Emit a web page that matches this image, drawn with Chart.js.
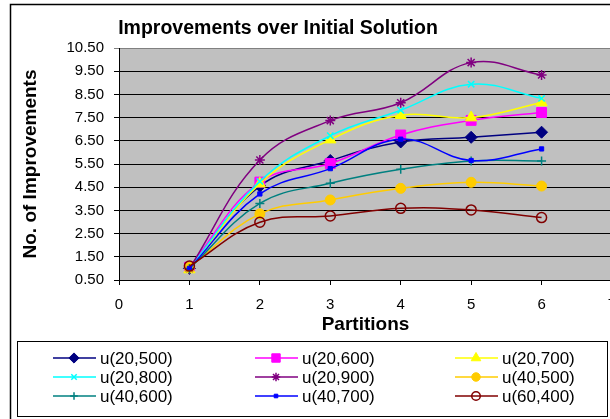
<!doctype html>
<html lang="en">
<head>
<meta charset="utf-8">
<script src="https://cdn.jsdelivr.net/npm/chart.js@4.4.0/dist/chart.umd.min.js"></script>
<title>Improvements over Initial Solution</title>
<style>
  body { margin: 0; overflow: hidden; background: #fff; }
  #wrap { position: relative; width: 650px; height: 419px; }
</style>
</head>
<body>
<div id="wrap"><canvas id="impChart"></canvas></div>
<script>
// data
const partitions = [1, 2, 3, 4, 5, 6];
const seriesNames = ['u(20,500)', 'u(20,600)', 'u(20,700)', 'u(20,800)', 'u(20,900)', 'u(40,500)', 'u(40,600)', 'u(40,700)', 'u(60,400)'];
const u20_500 = [1.00, 4.55, 5.65, 6.45, 6.65, 6.87];
const u20_600 = [1.05, 4.72, 5.52, 6.75, 7.38, 7.72];
const u20_700 = [0.95, 4.65, 6.55, 7.60, 7.50, 8.15];
const u20_800 = [1.00, 4.75, 6.72, 7.82, 8.94, 8.33];
const u20_900 = [1.00, 5.67, 7.37, 8.14, 9.87, 9.34];
const u40_500 = [1.05, 3.35, 3.95, 4.45, 4.71, 4.55];
const u40_600 = [1.00, 3.80, 4.67, 5.27, 5.63, 5.63];
const u40_700 = [1.00, 4.21, 5.30, 6.57, 5.65, 6.15];
const u60_400 = [1.10, 2.99, 3.26, 3.59, 3.52, 3.19];
const seriesValues = [u20_500, u20_600, u20_700, u20_800, u20_900, u40_500, u40_600, u40_700, u60_400];

const colours = ['#000080', '#FF00FF', '#FFFF00', '#00FFFF', '#800080', '#FFCC00', '#008080', '#0000FF', '#800000'];
const markers = ['rectRot', 'rect', 'triangle', 'crossRot', 'star', 'circle', 'cross', 'rect', 'circle'];
const markerSize = [6, 7, 6.5, 4.5, 5, 5, 4.5, 3, 5];

Chart.defaults.font.family = "'Liberation Sans', Arial, sans-serif";
Chart.defaults.color = '#000';

const datasets = seriesNames.map(function (name, i) {
  const hollow = i === 8;
  return {
    label: name,
    data: partitions.map((p, k) => ({ x: p, y: seriesValues[i][k] })),
    borderColor: colours[i],
    backgroundColor: hollow ? 'rgba(0,0,0,0)' : colours[i],
    pointBackgroundColor: hollow ? 'rgba(0,0,0,0)' : colours[i],
    pointBorderColor: colours[i],
    pointStyle: markers[i],
    pointRadius: markerSize[i],
    pointBorderWidth: (markers[i] === 'crossRot' || markers[i] === 'star' || markers[i] === 'cross' || hollow) ? 1.5 : 1,
    borderWidth: 1.5,
    tension: 0.4,
    fill: false,
    order: -i
  };
});

// grey plot area, outer frame, main title
const frame = {
  id: 'frame',
  beforeDraw(chart) {
    const ctx = chart.ctx, a = chart.chartArea;
    ctx.save();
    ctx.fillStyle = '#C0C0C0';
    ctx.fillRect(a.left, a.top, a.right - a.left, a.bottom - a.top);
    ctx.strokeStyle = '#000';
    ctx.lineWidth = 1.5;
    ctx.strokeRect(10.5, 4.5, 700, 500);
    ctx.restore();
  },
  afterDraw(chart) {
    const ctx = chart.ctx;
    ctx.save();
    ctx.fillStyle = '#000';
    ctx.font = "bold 19.5px 'Liberation Sans', Arial, sans-serif";
    ctx.textAlign = 'center';
    ctx.textBaseline = 'middle';
    ctx.fillText('Improvements over Initial Solution', 278, 29);
    ctx.restore();
  }
};

// excel style legend: line + marker + name, three columns
const lineLegend = {
  id: 'lineLegend',
  afterDraw(chart) {
    const ctx = chart.ctx;
    const colX = [53, 255, 455];
    const rowY = [358, 377, 396];
    ctx.save();
    ctx.strokeStyle = '#000';
    ctx.lineWidth = 1;
    ctx.strokeRect(17.5, 341.5, 590, 75);
    ctx.font = "17px 'Liberation Sans', Arial, sans-serif";
    ctx.textBaseline = 'middle';
    chart.data.datasets.forEach(function (ds, i) {
      const x = colX[i % 3], y = rowY[Math.floor(i / 3)];
      ctx.strokeStyle = ds.borderColor;
      ctx.lineWidth = 1.5;
      ctx.beginPath();
      ctx.moveTo(x, y);
      ctx.lineTo(x + 43, y);
      ctx.stroke();
      ctx.fillStyle = ds.pointBackgroundColor;
      ctx.strokeStyle = ds.pointBorderColor;
      ctx.lineWidth = ds.pointBorderWidth;
      Chart.helpers.drawPoint(ctx, { pointStyle: ds.pointStyle, radius: ds.pointRadius * 0.85, borderWidth: ds.pointBorderWidth, rotation: 0 }, x + 21, y);
      ctx.fillStyle = '#000';
      ctx.fillText(ds.label, x + 47, y + 1);
    });
    ctx.restore();
  }
};

new Chart(document.getElementById('impChart'), {
  type: 'line',
  data: { datasets: datasets },
  plugins: [frame, lineLegend],
  options: {
    responsive: true,
    maintainAspectRatio: false,
    animation: false,
    layout: { padding: { left: 0, top: 48, right: 38, bottom: 79 } },
    plugins: { legend: { display: false }, tooltip: { enabled: false }, title: { display: false } },
    scales: {
      x: {
        type: 'linear',
        min: 0, max: 7,
        afterFit(scale) { scale.height = 60; },
        ticks: { stepSize: 1, padding: 11, maxRotation: 0, font: { size: 15 } },
        grid: { drawOnChartArea: false, drawTicks: true, tickLength: 5, color: '#000' },
        border: { color: '#000', width: 1 },
        title: { display: true, text: 'Partitions', font: { size: 19, weight: 'bold' }, padding: { top: 0, bottom: 4 } }
      },
      y: {
        min: 0.5, max: 10.5,
        afterFit(scale) { scale.width = 119; },
        ticks: { stepSize: 1, padding: 10, font: { size: 15 }, callback: v => v.toFixed(2) },
        grid: { color: ctx => ctx.tick && ctx.tick.value === 10.5 ? '#808080' : '#000', tickLength: 5, lineWidth: 1 },
        border: { color: '#000', width: 1 },
        title: { display: true, text: 'No. of Improvements', font: { size: 19, weight: 'bold' }, padding: { top: 19, bottom: 0 } }
      }
    }
  }
});
</script>
</body>
</html>
